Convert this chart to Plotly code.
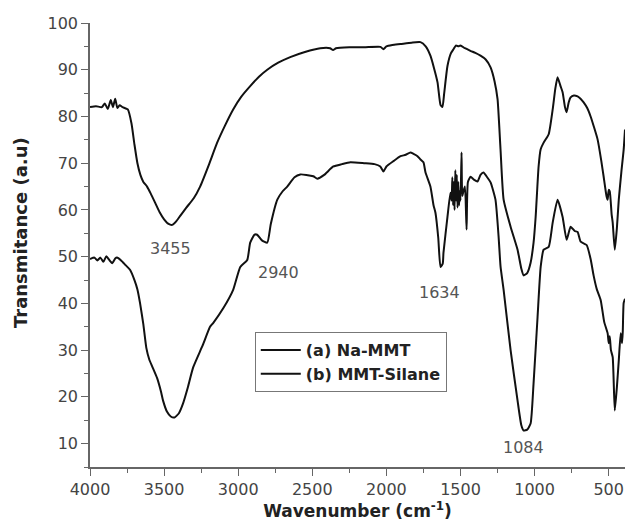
import plotly.graph_objects as go

# (a) Na-MMT
wn_a = [4000, 3960, 3920, 3900, 3880, 3860, 3845, 3830, 3815, 3800, 3780, 3745, 3720, 3700, 3680,
        3660, 3640, 3615, 3590, 3560, 3530, 3500, 3470, 3445, 3420, 3390, 3350, 3300, 3257, 3200,
        3142, 3090, 3034, 2980, 2919, 2860, 2804, 2730, 2649, 2550, 2446, 2380, 2360, 2340, 2250,
        2150, 2040, 2020, 2000, 1960, 1905, 1830, 1770, 1735, 1703, 1680, 1655, 1635, 1622, 1610,
        1588, 1565, 1547, 1530, 1514, 1500, 1470, 1430, 1400, 1365, 1330, 1297, 1270, 1250, 1230,
        1209, 1162, 1115, 1090, 1074, 1050, 1027, 1007, 993, 973, 959, 939, 905, 878, 860,
        845, 825, 811, 795, 784, 770, 757, 735, 710, 690, 669, 645, 622, 600, 575,
        550, 534, 515, 507, 500, 493, 480, 473, 459, 445, 432, 415, 399, 390]
tr_a = [82.0, 82.2, 82.0, 82.8, 81.6, 83.5, 82.0, 83.8, 81.8, 82.4, 82.0, 81.5, 78.5, 74.0, 70.0,
        67.5, 66.0, 65.0, 63.5, 61.5, 59.5, 58.0, 57.0, 56.8, 57.5, 58.8, 60.5, 62.5, 65.0, 69.5,
        74.4, 78.0, 81.5, 84.2, 86.5, 88.5, 90.0, 91.5, 92.7, 93.8, 94.6, 94.6, 94.2, 94.6, 94.8,
        94.8, 94.9, 94.4, 95.0, 95.3, 95.5, 95.8, 95.9, 95.0, 93.0, 90.5, 87.3, 82.5, 82.0, 85.0,
        90.8, 93.5, 94.4, 95.2, 95.0, 95.2, 94.6, 94.0, 93.6, 93.0, 92.2, 90.5, 87.5, 83.7, 73.0,
        62.2, 56.4, 51.5, 47.5, 46.0, 46.5, 48.7, 53.0, 58.5, 69.3, 73.0, 74.4, 76.2, 81.5, 86.0,
        88.4, 86.5, 85.2, 82.0, 80.9, 83.0, 84.1, 84.5, 84.3, 83.8, 83.0, 81.8, 80.0, 77.8, 75.1,
        70.5, 67.1, 63.0, 62.2, 64.3, 64.0, 59.0, 57.3, 51.5, 56.0, 62.2, 68.0, 72.9, 77.2]

# (b) MMT-Silane
wn_b = [4000, 3970, 3950, 3930, 3910, 3890, 3870, 3850, 3830, 3818, 3790, 3760, 3730, 3700, 3680,
        3662, 3640, 3620, 3600, 3580, 3547, 3520, 3507, 3480, 3455, 3430, 3400, 3372, 3340, 3304,
        3240, 3190, 3169, 3100, 3034, 2986, 2939, 2919, 2890, 2872, 2840, 2804, 2780, 2736, 2700,
        2669, 2620, 2581, 2540, 2493, 2466, 2420, 2358, 2300, 2243, 2150, 2080, 2041, 2020, 2000,
        1950, 1905, 1870, 1838, 1817, 1790, 1770, 1750, 1736, 1703, 1682, 1669, 1650, 1635, 1620,
        1615, 1588, 1568, 1560, 1555, 1550, 1545, 1540, 1535, 1530, 1525, 1520, 1515, 1510, 1505,
        1500, 1493, 1488, 1480, 1470, 1459, 1450, 1432, 1410, 1385, 1365, 1345, 1320, 1297, 1264,
        1243, 1230, 1209, 1162, 1115, 1090, 1074, 1050, 1027, 1007, 980, 959, 939, 905, 878,
        845, 811, 784, 757, 730, 710, 689, 649, 622, 602, 580, 554, 530, 507, 500,
        493, 485, 473, 459, 445, 432, 419, 410, 405, 399, 390]
tr_b = [49.5, 49.8, 49.2, 49.8, 48.9, 50.1, 49.3, 48.6, 49.6, 49.8, 49.2, 48.2, 47.2, 45.0, 43.0,
        40.0, 35.5, 30.5, 28.0, 26.5, 24.0, 21.0, 19.2, 16.8, 15.8, 15.6, 16.5, 18.6, 22.0, 26.3,
        31.0, 35.0, 35.8, 39.0, 42.9, 47.8, 49.3, 53.0, 54.7, 54.7, 53.5, 53.0, 57.0, 62.2, 64.0,
        65.0, 67.0, 67.6, 67.5, 67.2, 66.7, 67.5, 69.3, 69.8, 70.2, 70.0, 69.8, 69.3, 68.2, 69.3,
        70.5, 71.5, 71.8, 72.3, 72.0, 71.5, 70.8, 70.2, 68.0, 65.0, 61.0, 59.4, 54.0, 47.8, 48.5,
        50.8, 58.5, 63.7, 62.0, 67.0, 61.0, 66.0, 60.0, 68.5, 62.0, 67.5, 60.5, 66.0, 61.0, 64.0,
        62.0, 72.3, 63.0, 64.0, 65.0, 55.8, 66.0, 67.1, 66.5, 66.1, 67.5, 68.0, 67.0, 65.9, 62.2,
        54.3, 48.0, 42.9, 30.0, 19.2, 14.0, 12.8, 13.0, 14.3, 22.9, 37.1, 47.8, 51.5, 52.1, 57.3,
        62.2, 58.5, 53.6, 56.4, 55.5, 55.3, 53.2, 52.5, 49.5, 46.0, 43.0, 40.7, 36.0, 33.6, 31.5,
        33.0, 30.0, 28.5, 17.1, 22.0, 27.8, 33.6, 31.5, 34.0, 40.1, 41.0]

peak_labels = ["3455", "2940", "1634", "1084"]
peak_x = [3460, 2730, 1642, 1074]
peak_y = [51.8, 46.7, 42.4, 9.2]

x_ticks = [4000, 3500, 3000, 2500, 2000, 1500, 1000, 500]
y_ticks = [10, 20, 30, 40, 50, 60, 70, 80, 90, 100]

FONT = "DejaVu Sans"

fig = go.Figure()
fig.add_trace(go.Scatter(x=wn_a, y=tr_a, mode="lines", name="<b>(a) Na-MMT</b>",
                         line=dict(color="#111111", width=2, shape="spline", smoothing=0.5)))
fig.add_trace(go.Scatter(x=wn_b, y=tr_b, mode="lines", name="<b>(b) MMT-Silane</b>",
                         line=dict(color="#111111", width=2, shape="spline", smoothing=0.5)))

for t, xx, yy in zip(peak_labels, peak_x, peak_y):
    fig.add_annotation(x=xx, y=yy, xref="x", yref="y", text=t, showarrow=False,
                       font=dict(family=FONT, size=16, color="#555555"))

fig.add_annotation(x=-0.131, y=0.529, xref="paper", yref="paper", xanchor="center", yanchor="middle",
                   text="<b>Transmitance (a.u)</b>", showarrow=False, textangle=-90,
                   font=dict(family=FONT, size=18, color="#222222"))

fig.update_layout(
    width=627, height=529,
    margin=dict(l=90, r=2, t=23, b=62),
    paper_bgcolor="white", plot_bgcolor="white",
    showlegend=True,
    legend=dict(x=0.308, y=0.304, xanchor="left", yanchor="top",
                bordercolor="#777777", borderwidth=1, bgcolor="white",
                font=dict(family=FONT, size=16, color="#222222"),
                tracegroupgap=0, itemwidth=40),
    font=dict(family=FONT, size=16, color="#444444"),
)

fig.update_xaxes(
    range=[4000, 390], tickvals=x_ticks, ticks="outside", ticklen=7, tickwidth=1.3,
    tickcolor="#666666", showline=True, linecolor="#666666", linewidth=1.5,
    showgrid=False, zeroline=False, mirror=False, automargin=False,
    minor=dict(ticks="outside", ticklen=4, dtick=250, tick0=0, tickcolor="#666666", showgrid=False),
    tickfont=dict(family=FONT, size=16, color="#444444"),
    title=dict(text="<b>Wavenumber (cm<sup>-1</sup>)</b>", standoff=6,
               font=dict(family=FONT, size=17, color="#222222")),
)
fig.update_yaxes(
    range=[5, 100], tickvals=y_ticks, ticks="outside", ticklen=7, tickwidth=1.3,
    tickcolor="#666666", showline=True, linecolor="#666666", linewidth=1.5,
    showgrid=False, zeroline=False, mirror=False, automargin=False,
    minor=dict(ticks="outside", ticklen=4, dtick=5, tick0=0, tickcolor="#666666", showgrid=False),
    tickfont=dict(family=FONT, size=16, color="#444444"),
)

# remove the default page margin so the figure fills the window exactly
fig.write_html("out.html", config={"displayModeBar": False},
               post_script="document.body.style.margin='0';document.body.style.overflow='hidden';")
